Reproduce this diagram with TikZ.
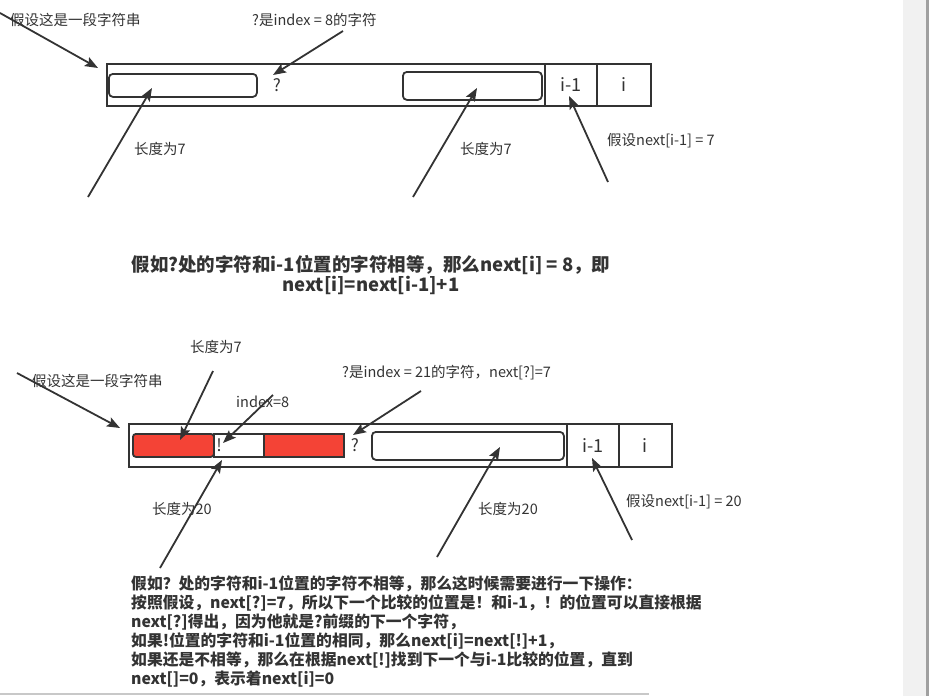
\documentclass[tikz,border=0pt]{standalone}
\usepackage{fontspec}
\setmainfont{Noto Sans CJK SC}
\usetikzlibrary{arrows.meta}
\definecolor{ink}{HTML}{333333}
\definecolor{strred}{HTML}{F44336}
\definecolor{panelgray}{HTML}{F1F1F1}
\definecolor{edgegray}{HTML}{A0A0A0}
\definecolor{rulegray}{HTML}{C8C8C8}
\tikzset{
  pointer/.style={-{Stealth[length=13pt, width=10pt, inset=2.5pt]}, line width=1.8pt, draw=ink},
  strbox/.style={draw=ink, line width=1.8pt, rectangle, anchor=north west, inner sep=0pt},
  cell/.style={draw=ink, line width=1.8pt, rectangle, anchor=north west, minimum width=52pt, minimum height=42pt, inner sep=0pt, text=ink, font=\fontsize{18}{18}\selectfont},
  seg/.style={draw=ink, line width=1.8pt, rounded corners=4pt, rectangle, anchor=north west, inner sep=0pt},
  redseg/.style={draw=ink, line width=1.8pt, fill=strred, rectangle, anchor=north west, inner sep=0pt, minimum height=23pt},
  charmark/.style={text=ink, inner sep=0pt, font=\fontsize{17}{17}\selectfont},
  note/.style={anchor=west, inner sep=0pt, text=ink, font=\fontsize{14.5}{16}\selectfont},
  remark/.style={align=center, inner sep=0pt, text=ink, font=\bfseries\fontsize{18.5}{20}\selectfont},
  explain/.style={align=left, anchor=north west, inner sep=0pt, text=ink, font=\bfseries\fontsize{15.8}{19}\selectfont}
}

\begin{document}
\begin{tikzpicture}[x=1pt, y=-1pt]
  \useasboundingbox (0,0) rectangle (929,696);
  % window edge
  \fill[panelgray] (903,0) rectangle (926,696);
  \fill[edgegray] (926,0) rectangle (929,696);
  \draw[rulegray, line width=1.5pt] (0,694) -- (649,694);

  % first string
  \node[strbox, minimum width=438pt, minimum height=42pt] (str1) at (106,63) {};
  \node[cell] (prev1) at (544,63) {i-1};
  \node[cell, minimum width=54pt] (cur1) at (596,63) {i};
  \node[seg, minimum width=148pt, minimum height=23pt] (pre1) at (108,73) {};
  \node[seg, minimum width=139pt, minimum height=28pt] (suf1) at (402,71) {};
  \node[charmark] (q1) at (277,85) {?};

  \node[note] (lstr1) at (10,20) {假设这是一段字符串};
  \node[note] (lq1) at (252,20) {?是index = 8的字符};
  \node[note] (lpre1) at (134,149) {长度为7};
  \node[note] (lsuf1) at (460,149) {长度为7};
  \node[note] (lnext1) at (607,141) {假设next[i-1] = 7};

  \coordinate (tstr1) at (0,13);
  \coordinate (hstr1) at (98,68);
  \coordinate (tq1) at (343,31);
  \coordinate (hq1) at (273,75);
  \coordinate (tpre1) at (88,197);
  \coordinate (hpre1) at (152,88);
  \coordinate (tsuf1) at (413,197);
  \coordinate (hsuf1) at (477,88);
  \coordinate (tnext1) at (608,182);
  \coordinate (hnext1) at (569,96);
  \draw[pointer] (tstr1) -- (hstr1);
  \draw[pointer] (tq1) -- (hq1);
  \draw[pointer] (tpre1) -- (hpre1);
  \draw[pointer] (tsuf1) -- (hsuf1);
  \draw[pointer] (tnext1) -- (hnext1);

  \node[remark] (eq) at (371,275) {假如?处的字符和i-1位置的字符相等，那么next[i] = 8，即\\next[i]=next[i-1]+1};

  % second string
  \node[strbox, minimum width=438pt, minimum height=43pt] (str2) at (128,423) {};
  \node[cell, minimum height=43pt] (prev2) at (566,423) {i-1};
  \node[cell, minimum width=53pt, minimum height=43pt] (cur2) at (618,423) {i};
  \node[redseg, minimum width=81pt, rounded corners=3pt] (pre2a) at (132,433) {};
  \node[redseg, minimum width=50pt, fill=white] (bang) at (213,433) {};
  \node[redseg, minimum width=80pt] (pre2b) at (263,433) {};
  \node[charmark] (bangch) at (219,445) {!};
  \node[charmark] (q2) at (355,445) {?};
  \node[seg, minimum width=192pt, minimum height=28pt] (suf2) at (371,431) {};

  \node[note] (lstr2) at (32,381) {假设这是一段字符串};
  \node[note] (lpre2) at (190,347) {长度为7};
  \node[note] (lbang) at (236,402) {index=8};
  \node[note] (lq2) at (342,373) {?是index = 21的字符，next[?]=7};
  \node[note] (lall2) at (152,509) {长度为20};
  \node[note] (lsuf2) at (478,509) {长度为20};
  \node[note] (lnext2) at (626,502) {假设next[i-1] = 20};

  \coordinate (tstr2) at (17,373);
  \coordinate (hstr2) at (120,428);
  \coordinate (tpre2) at (213,371);
  \coordinate (hpre2) at (180,440);
  \coordinate (tbang) at (273,395);
  \coordinate (hbang) at (223,443);
  \coordinate (tall2) at (160,568);
  \coordinate (hall2) at (222,460);
  \coordinate (tq2) at (421,391);
  \coordinate (hq2) at (353,435);
  \coordinate (tsuf2) at (437,557);
  \coordinate (hsuf2) at (500,447);
  \coordinate (tnext2) at (632,540);
  \coordinate (hnext2) at (592,458);
  \draw[pointer] (tstr2) -- (hstr2);
  \draw[pointer] (tpre2) -- (hpre2);
  \draw[pointer] (tbang) -- (hbang);
  \draw[pointer] (tall2) -- (hall2);
  \draw[pointer] (tq2) -- (hq2);
  \draw[pointer] (tsuf2) -- (hsuf2);
  \draw[pointer] (tnext2) -- (hnext2);

  \node[explain] (steps) at (131,575) {假如？处的字符和i-1位置的字符不相等，那么这时候需要进行一下操作：\\
    按照假设，next[?]=7，所以下一个比较的位置是！和i-1，！的位置可以直接根据\\
    next[?]得出，因为他就是?前缀的下一个字符，\\
    如果!位置的字符和i-1位置的相同，那么next[i]=next[!]+1，\\
    如果还是不相等，那么在根据next[!]找到下一个与i-1比较的位置，直到\\
    next[]=0，表示着next[i]=0};
\end{tikzpicture}
\end{document}
